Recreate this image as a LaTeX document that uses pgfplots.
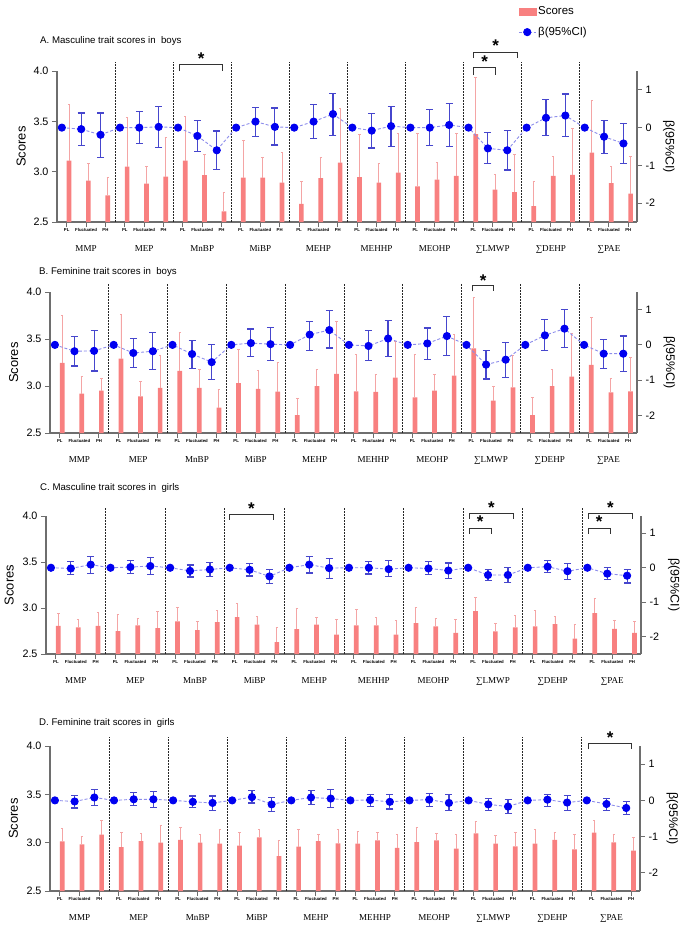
\documentclass[border=0pt]{standalone}
\usepackage{fontspec}
\setmainfont{Liberation Sans}
\newfontfamily\grpfont{Liberation Serif}
\usepackage{pgfplots}
\pgfplotsset{compat=1.18}
\usepackage{pgfplotstable}

\definecolor{barcol}{RGB}{248,128,128}
\definecolor{barerr}{RGB}{244,165,165}
\definecolor{ptblue}{RGB}{0,0,240}
\definecolor{pterr}{RGB}{70,70,205}
\definecolor{ptline}{RGB}{140,140,235}
\definecolor{axcol}{RGB}{110,110,110}

% x: category index; bar: mean score; bhi: upper error; b: beta; lo/hi: 95% CI
\pgfplotstableread{
x bar bhi b lo hi
0 3.11 3.67 0 0 0
1 2.91 3.085 -0.04 -0.48 0.39
2 2.765 2.944 -0.19 -0.79 0.39
3 3.05 3.54 0 0 0
4 2.88 3.05 0.00 -0.41 0.42
5 2.95 3.34 0.02 -0.53 0.55
6 3.11 3.55 0 0 0
7 2.965 3.17 -0.22 -0.63 0.19
8 2.605 2.79 -0.60 -1.11 -0.09
9 2.94 3.31 0 0 0
10 2.94 3.14 0.16 -0.23 0.54
11 2.89 3.19 0.02 -0.46 0.52
12 2.68 2.90 0 0 0
13 2.935 3.14 0.16 -0.29 0.61
14 3.09 3.63 0.36 -0.20 0.91
15 2.945 3.365 0 0 0
16 2.89 3.08 -0.08 -0.54 0.37
17 2.99 3.38 0.04 -0.49 0.57
18 2.855 3.375 0 0 0
19 2.92 3.095 0.00 -0.48 0.49
20 2.957 3.382 0.07 -0.51 0.64
21 3.372 3.934 0 0 0
22 2.822 2.974 -0.55 -0.96 -0.13
23 2.796 3.168 -0.60 -1.12 -0.08
24 2.658 2.905 0 0 0
25 2.957 3.148 0.26 -0.21 0.75
26 2.967 3.431 0.32 -0.24 0.89
27 3.19 3.704 0 0 0
28 2.885 3.056 -0.24 -0.69 0.18
29 2.783 3.151 -0.42 -0.95 0.11
}\tabA

\pgfplotstableread{
x bar bhi b lo hi
0 3.247 3.746 0 0 0
1 2.92 3.10 -0.18 -0.60 0.24
2 2.95 3.08 -0.17 -0.74 0.40
3 3.29 3.76 0 0 0
4 2.89 3.05 -0.23 -0.64 0.17
5 2.98 3.33 -0.18 -0.69 0.34
6 3.16 3.57 0 0 0
7 2.98 3.18 -0.26 -0.66 0.13
8 2.77 2.96 -0.49 -0.99 0.02
9 3.03 3.39 0 0 0
10 2.97 3.17 0.05 -0.33 0.45
11 2.94 3.25 0.02 -0.45 0.50
12 2.69 2.87 0 0 0
13 3.00 3.18 0.29 -0.16 0.67
14 3.13 3.69 0.42 -0.09 0.98
15 2.944 3.338 0 0 0
16 2.937 3.12 -0.03 -0.44 0.40
17 3.09 3.47 0.18 -0.33 0.69
18 2.88 3.34 0 0 0
19 2.95 3.12 0.04 -0.41 0.48
20 3.11 3.55 0.25 -0.29 0.80
21 3.40 3.94 0 0 0
22 2.845 2.997 -0.56 -0.97 -0.17
23 2.986 3.33 -0.42 -0.92 0.07
24 2.69 2.88 0 0 0
25 3.00 3.18 0.27 -0.16 0.72
26 3.10 3.56 0.46 -0.08 1.01
27 3.225 3.725 0 0 0
28 2.933 3.08 -0.25 -0.68 0.16
29 2.944 3.30 -0.25 -0.76 0.25
}\tabB

\pgfplotstableread{
x bar bhi b lo hi
0 2.807 2.94 0 0 0
1 2.79 2.88 -0.02 -0.20 0.17
2 2.807 2.95 0.09 -0.16 0.32
3 2.75 2.93 0 0 0
4 2.81 2.89 0.02 -0.16 0.21
5 2.78 2.965 0.05 -0.19 0.29
6 2.854 3.01 0 0 0
7 2.76 2.855 -0.09 -0.27 0.08
8 2.847 2.97 -0.05 -0.26 0.16
9 2.90 3.05 0 0 0
10 2.82 2.91 -0.06 -0.24 0.13
11 2.63 2.785 -0.25 -0.46 -0.04
12 2.77 3.00 0 0 0
13 2.82 2.90 0.09 -0.15 0.32
14 2.71 2.875 -0.01 -0.30 0.27
15 2.81 2.98 0 0 0
16 2.81 2.90 0.00 -0.18 0.18
17 2.71 2.865 -0.04 -0.26 0.20
18 2.836 3.01 0 0 0
19 2.80 2.89 -0.02 -0.20 0.17
20 2.73 2.88 -0.08 -0.31 0.14
21 2.966 3.117 0 0 0
22 2.745 2.836 -0.21 -0.38 -0.04
23 2.79 2.92 -0.21 -0.42 0.00
24 2.80 2.97 0 0 0
25 2.825 2.91 0.03 -0.13 0.21
26 2.666 2.825 -0.10 -0.34 0.12
27 2.944 3.10 0 0 0
28 2.774 2.87 -0.17 -0.35 0.00
29 2.73 2.854 -0.23 -0.44 -0.04
}\tabC

\pgfplotstableread{
x bar bhi b lo hi
0 3.014 3.145 0 0 0
1 2.983 3.06 -0.03 -0.21 0.14
2 3.083 3.234 0.08 -0.14 0.30
3 2.955 3.11 0 0 0
4 3.017 3.093 0.03 -0.14 0.21
5 3.00 3.176 0.03 -0.20 0.25
6 3.028 3.162 0 0 0
7 3.00 3.083 -0.04 -0.19 0.12
8 2.99 3.134 -0.07 -0.27 0.12
9 2.97 3.11 0 0 0
10 3.055 3.134 0.09 -0.07 0.27
11 2.86 3.024 -0.11 -0.30 0.09
12 2.96 3.134 0 0 0
13 3.017 3.09 0.08 -0.11 0.28
14 2.993 3.134 0.05 -0.20 0.29
15 2.99 3.12 0 0 0
16 3.024 3.103 0.01 -0.16 0.17
17 2.945 3.09 -0.04 -0.24 0.17
18 3.007 3.16 0 0 0
19 3.024 3.10 0.02 -0.16 0.19
20 2.938 3.083 -0.07 -0.28 0.16
21 3.097 3.217 0 0 0
22 2.99 3.072 -0.11 -0.27 0.05
23 2.962 3.103 -0.17 -0.36 0.02
24 2.99 3.134 0 0 0
25 3.028 3.103 0.02 -0.16 0.17
26 2.93 3.083 -0.06 -0.28 0.14
27 3.103 3.23 0 0 0
28 3.003 3.09 -0.10 -0.27 0.05
29 2.917 3.059 -0.21 -0.40 -0.02
}\tabD

\tikzset{
  sepline/.style={black!85, line width=0.8bp, dash pattern=on 1.6bp off 1.4bp},
  grp/.style={font=\grpfont\fontsize{9.1}{10}\selectfont, yshift=-27bp, anchor=center, inner sep=0pt},
  brk/.style={black!80, line width=1bp},
  star/.style={font=\fontsize{17}{17}\selectfont\bfseries, inner sep=0pt, yshift=-4bp},
  ttl/.style={anchor=west, font=\fontsize{9.7}{11}\selectfont, inner sep=0pt},
}

\pgfplotsset{
  common/.style={scale only axis, anchor=south west, xmin=-0.5, xmax=29.45,
    axis line style={axcol, line width=1.2bp, -}, tick align=outside,
    major tick length=5bp, tick style={axcol, line width=1bp},
    y tick label style={font=\fontsize{10.8}{12}\selectfont},
    yticklabel style={/pgf/number format/.cd, assume math mode=true}},
  barax/.style={common, ymin=2.5, ymax=4, ytick={2.5,3,3.5,4},
    yticklabel style={/pgf/number format/.cd, fixed, fixed zerofill, precision=1},
    axis x line*=bottom, axis y line*=left,
    xtick={0,...,29},
    xticklabels={PL,Fluctuated,PH,PL,Fluctuated,PH,PL,Fluctuated,PH,PL,Fluctuated,PH,PL,Fluctuated,PH,PL,Fluctuated,PH,PL,Fluctuated,PH,PL,Fluctuated,PH,PL,Fluctuated,PH,PL,Fluctuated,PH},
    x tick label style={font=\fontsize{4.3}{5}\selectfont\bfseries, inner sep=1.5bp},
    ylabel={Scores},
    ylabel style={font=\fontsize{13}{14}\selectfont, at={(axis description cs:-0.062,0.5)}, anchor=center}},
  betaax/.style={common, ymin=-2.5, ymax=1.5, ytick={-2,-1,0,1},
    axis y line*=right, axis x line=none, clip=false,
    ylabel={β(95\%CI)},
    ylabel style={font=\fontsize{12.5}{14}\selectfont, at={(axis description cs:1.055,0.5)}, anchor=center, rotate=180},
    legend style={at={(axis description cs:0.795,1.44)}, anchor=north west, draw=none, fill=none,
      inner sep=0pt, row sep=7bp, font=\fontsize{11.5}{13}\selectfont},
    legend cell align=left},
  barplot/.style={ybar, bar width=4.7bp, bar shift=0pt, fill=barcol, draw=none,
    error bars/.cd, y dir=plus, y explicit,
    error bar style={barerr, line width=0.9bp},
    error mark options={barerr, line width=0.9bp, mark size=1.2bp, rotate=90}},
  betaplot/.style={ptline, densely dashed, line width=0.9bp, mark=*, mark size=3.6bp,
    mark options={solid, fill=ptblue, draw=ptblue},
    error bars/.cd, y dir=both, y explicit,
    error bar style={solid, pterr, line width=1.2bp},
    error mark options={solid, pterr, line width=1.2bp, mark size=3.5bp, rotate=90}},
}

\newcommand{\seps}{\pgfplotsinvokeforeach{2.5,5.5,8.5,11.5,14.5,17.5,20.5,23.5,26.5}{\draw[sepline] (axis cs:##1,-2.5) -- (axis cs:##1,1.75);}}

\newcommand{\grplabels}{%
  \node[grp] at (axis cs:1,-2.5) {MMP};
  \node[grp] at (axis cs:4,-2.5) {MEP};
  \node[grp] at (axis cs:7,-2.5) {MnBP};
  \node[grp] at (axis cs:10,-2.5) {MiBP};
  \node[grp] at (axis cs:13,-2.5) {MEHP};
  \node[grp] at (axis cs:16,-2.5) {MEHHP};
  \node[grp] at (axis cs:19,-2.5) {MEOHP};
  \node[grp] at (axis cs:22,-2.5) {∑LMWP};
  \node[grp] at (axis cs:25,-2.5) {∑DEHP};
  \node[grp] at (axis cs:28,-2.5) {∑PAE};
}

% bracket: x1, x2, ylow, yhigh, xstar, ystar
\newcommand{\brk}[6]{\draw[brk] (axis cs:#1,#3) -- (axis cs:#1,#4) -- (axis cs:#2,#4) -- (axis cs:#2,#3); \node[star] at (axis cs:#5,#6) {*};}

% table, left, bottom, width, height, pre, post
\newcommand{\panel}[7]{%
  \begin{axis}[barax, at={(#2bp,-#3bp)}, width=#4bp, height=#5bp]
    \addplot[barplot] table[x expr=\thisrow{x}+0.12, y=bar, y error expr=\thisrow{bhi}-\thisrow{bar}]{#1};
  \end{axis}
  \begin{axis}[betaax, at={(#2bp,-#3bp)}, width=#4bp, height=#5bp]
    \seps
    #6
    \addplot[betaplot] table[x expr=\thisrow{x}-0.25, y=b, y error plus expr=\thisrow{hi}-\thisrow{b}, y error minus expr=\thisrow{b}-\thisrow{lo}]{#1};
    #7
    \grplabels
  \end{axis}}

\begin{document}
\begin{tikzpicture}
\useasboundingbox (0,0) rectangle (685bp,-928bp);

\node[ttl] at (40bp,-41bp) {A. Masculine trait scores in\ \ boys};
\node[ttl] at (39bp,-272bp) {B. Feminine trait scores in\ \ boys};
\node[ttl] at (40bp,-488bp) {C. Masculine trait scores in\ \ girls};
\node[ttl] at (39bp,-723bp) {D. Feminine trait scores in\ \ girls};

\panel{\tabA}{57}{222}{580}{151}
 {\addlegendimage{legend image code/.code={\fill[barcol] (0bp,-3.5bp) rectangle (17bp,3.5bp);}}\addlegendentry{Scores}}
 {\addlegendentry{β(95\%CI)}%
  \brk{5.85}{8.03}{1.5}{1.66}{6.94}{1.92}%
  \brk{21.03}{23.28}{1.84}{2.0}{22.15}{2.27}%
  \brk{21.03}{22.15}{1.39}{1.59}{21.59}{1.86}}

\panel{\tabB}{50}{433}{587}{141}{}
 {\brk{21.07}{22.12}{1.52}{1.69}{21.6}{1.94}}

\panel{\tabC}{46}{654}{595}{138}{}
 {\brk{8.72}{10.96}{1.39}{1.54}{9.84}{1.83}%
  \brk{20.8}{23.05}{1.42}{1.585}{21.92}{1.85}%
  \brk{20.8}{21.93}{0.98}{1.15}{21.36}{1.44}%
  \brk{26.79}{29.03}{1.42}{1.585}{27.91}{1.85}%
  \brk{26.79}{27.92}{0.98}{1.15}{27.35}{1.44}}

\panel{\tabD}{50}{891}{590}{145}{}
 {\brk{26.83}{29.03}{1.41}{1.56}{27.93}{1.83}}

\end{tikzpicture}
\end{document}
